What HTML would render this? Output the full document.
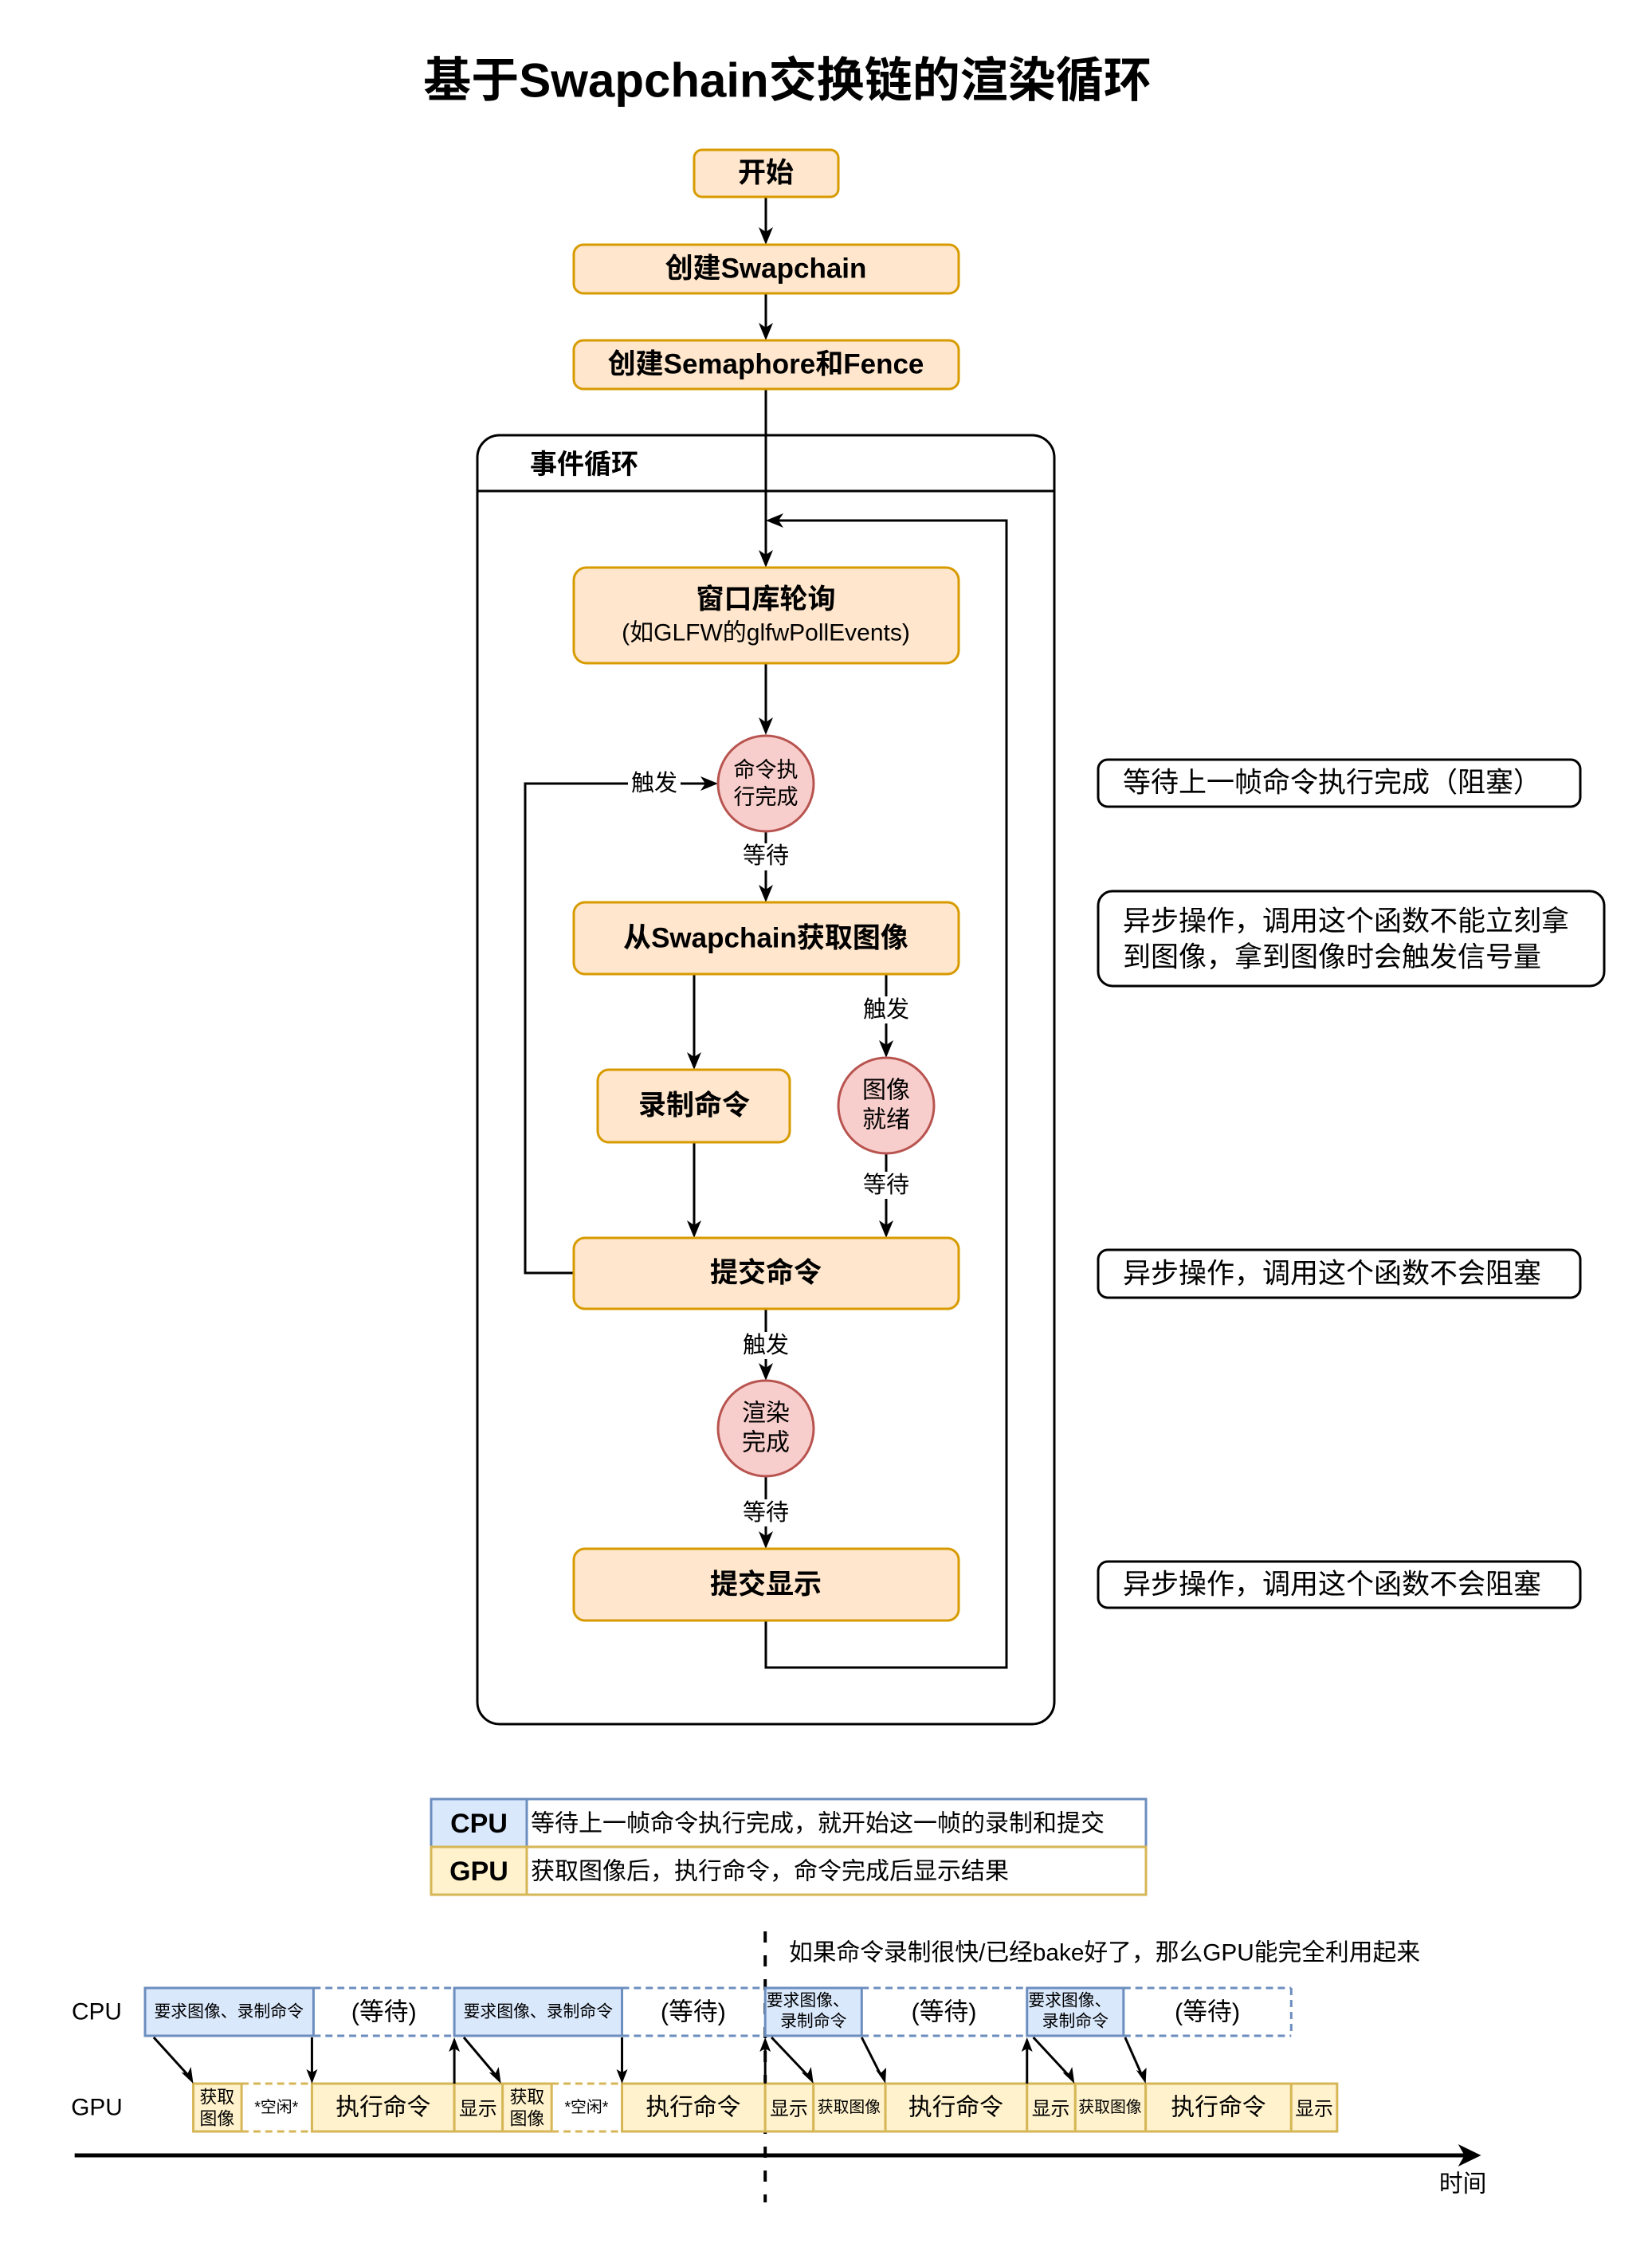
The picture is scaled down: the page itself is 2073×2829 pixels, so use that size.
<!DOCTYPE html>
<html><head><meta charset="utf-8"><style>
html,body{margin:0;padding:0;background:#fff;}
svg{display:block;}
text{font-family:"Liberation Sans","Noto Sans CJK SC",sans-serif;fill:#000;}
</style></head><body>
<svg width="2073" height="2829" viewBox="0 0 2073 2829" xmlns="http://www.w3.org/2000/svg">
<rect width="2073" height="2829" fill="#fff"/>
<!-- title -->
<text x="988" y="101" font-size="60" font-weight="bold" text-anchor="middle" dominant-baseline="central">基于Swapchain交换链的渲染循环</text>

<!-- container -->
<rect x="599" y="546" width="724" height="1617" rx="28" fill="none" stroke="#000" stroke-width="3"/>
<line x1="599" y1="616" x2="1323" y2="616" stroke="#000" stroke-width="3"/>
<text x="665" y="583" font-size="34" font-weight="bold" dominant-baseline="central">事件循环</text>

<g transform="translate(-2,0)">
<g stroke="#000" stroke-width="3" fill="none">
<line x1="963" y1="247" x2="963" y2="300"/>
<line x1="963" y1="368" x2="963" y2="420"/>
<line x1="963" y1="488" x2="963" y2="705"/>
<polyline points="963,2033 963,2092 1265,2092 1265,653 970,653"/>
<line x1="963" y1="832" x2="963" y2="915"/>
<line x1="963" y1="1043" x2="963" y2="1125"/>
<line x1="873" y1="1222" x2="873" y2="1335"/>
<line x1="1114" y1="1222" x2="1114" y2="1320"/>
<line x1="873" y1="1433" x2="873" y2="1546"/>
<line x1="1114" y1="1447" x2="1114" y2="1546"/>
<polyline points="722,1597 661,1597 661,983 896,983"/>
<line x1="963" y1="1642" x2="963" y2="1725"/>
<line x1="963" y1="1853" x2="963" y2="1936"/>
</g>
<g fill="#000">
<polygon points="963,307 954,285 963,291 972,285"/>
<polygon points="963,427 954,405 963,411 972,405"/>
<polygon points="963,712 954,690 963,696 972,690"/>
<polygon points="963,653 985,644 979,653 985,662"/>
<polygon points="963,922 954,900 963,906 972,900"/>
<polygon points="963,1132 954,1110 963,1116 972,1110"/>
<polygon points="873,1342 864,1320 873,1326 882,1320"/>
<polygon points="1114,1327 1105,1305 1114,1311 1123,1305"/>
<polygon points="873,1553 864,1531 873,1537 882,1531"/>
<polygon points="1114,1553 1105,1531 1114,1537 1123,1531"/>
<polygon points="903,983 881,974 887,983 881,992"/>
<polygon points="963,1732 954,1710 963,1716 972,1710"/>
<polygon points="963,1943 954,1921 963,1927 972,1921"/>
</g>

<!-- boxes -->
<g fill="#ffe6cc" stroke="#d79b00" stroke-width="3">
<rect x="873" y="188" width="181" height="59" rx="10"/>
<rect x="722" y="307" width="483" height="61" rx="12"/>
<rect x="722" y="427" width="483" height="61" rx="12"/>
<rect x="722" y="712" width="483" height="120" rx="16"/>
<rect x="722" y="1132" width="483" height="90" rx="14"/>
<rect x="752" y="1342" width="241" height="91" rx="14"/>
<rect x="722" y="1553" width="483" height="89" rx="14"/>
<rect x="722" y="1943" width="483" height="90" rx="14"/>
</g>
<g fill="#f8cecc" stroke="#b85450" stroke-width="3">
<ellipse cx="963" cy="983" rx="60" ry="60"/>
<ellipse cx="1114" cy="1387" rx="60" ry="60"/>
<ellipse cx="963" cy="1792" rx="60" ry="60"/>
</g>
<g font-size="35" font-weight="bold" text-anchor="middle" dominant-baseline="central">
<text x="963" y="217">开始</text>
<text x="963" y="337">创建Swapchain</text>
<text x="963" y="457">创建Semaphore和Fence</text>
<text x="963" y="752">窗口库轮询</text>
<text x="963" y="1177">从Swapchain获取图像</text>
<text x="873" y="1387">录制命令</text>
<text x="963" y="1597">提交命令</text>
<text x="963" y="1988">提交显示</text>
</g>
<text x="963" y="794" font-size="30" text-anchor="middle" dominant-baseline="central">(如GLFW的glfwPollEvents)</text>
<g font-size="27" text-anchor="middle" dominant-baseline="central">
<text x="963" y="966">命令执</text>
<text x="963" y="1000">行完成</text>
</g>
<g font-size="30" text-anchor="middle" dominant-baseline="central">
<text x="1114" y="1368">图像</text>
<text x="1114" y="1405">就绪</text>
<text x="963" y="1773">渲染</text>
<text x="963" y="1810">完成</text>
</g>
<g font-size="29" text-anchor="middle" dominant-baseline="central">
<rect x="790" y="966" width="66" height="34" fill="#fff"/>
<text x="823" y="983">触发</text>
<rect x="930" y="1058" width="66" height="34" fill="#fff"/>
<text x="963" y="1074">等待</text>
<rect x="1081" y="1250" width="66" height="34" fill="#fff"/>
<text x="1114" y="1267">触发</text>
<rect x="1081" y="1470" width="66" height="34" fill="#fff"/>
<text x="1114" y="1487">等待</text>
<rect x="930" y="1671" width="66" height="34" fill="#fff"/>
<text x="963" y="1688">触发</text>
<rect x="930" y="1881" width="66" height="34" fill="#fff"/>
<text x="963" y="1898">等待</text>
</g>
</g>

<!-- notes -->
<g fill="none" stroke="#000" stroke-width="3">
<rect x="1378" y="953" width="605" height="59" rx="12"/>
<rect x="1378" y="1118" width="635" height="119" rx="18"/>
<rect x="1378" y="1568" width="605" height="60" rx="12"/>
<rect x="1378" y="1959" width="605" height="58" rx="12"/>
</g>
<g font-size="35" dominant-baseline="central">
<text x="1409" y="982">等待上一帧命令执行完成（阻塞）</text>
<text x="1409" y="1156">异步操作，调用这个函数不能立刻拿</text>
<text x="1409" y="1201">到图像，拿到图像时会触发信号量</text>
<text x="1409" y="1598">异步操作，调用这个函数不会阻塞</text>
<text x="1409" y="1988">异步操作，调用这个函数不会阻塞</text>
</g>

<!-- legend -->
<rect x="541" y="2257" width="120" height="60" fill="#dae8fc" stroke="#6c8ebf" stroke-width="3"/>
<rect x="661" y="2257" width="777" height="60" fill="#fff" stroke="#6c8ebf" stroke-width="3"/>
<rect x="541" y="2317" width="120" height="60" fill="#fff2cc" stroke="#d6b656" stroke-width="3"/>
<rect x="661" y="2317" width="777" height="60" fill="#fff" stroke="#d6b656" stroke-width="3"/>
<g font-size="34" font-weight="bold" text-anchor="middle" dominant-baseline="central">
<text x="601" y="2288">CPU</text>
<text x="601" y="2348">GPU</text>
</g>
<g font-size="30" dominant-baseline="central">
<text x="666" y="2288">等待上一帧命令执行完成，就开始这一帧的录制和提交</text>
<text x="666" y="2348">获取图像后，执行命令，命令完成后显示结果</text>
</g>

<!-- timeline -->
<g transform="translate(182,0) scale(0.9926,1) translate(-182,0)">
<line x1="966" y1="2423" x2="966" y2="2763" stroke="#000" stroke-width="4" stroke-dasharray="14 16"/>
<text x="996" y="2450" font-size="30" dominant-baseline="central">如果命令录制很快/已经bake好了，那么GPU能完全利用起来</text>
<text x="121" y="2524" font-size="30" text-anchor="middle" dominant-baseline="central">CPU</text>
<text x="121" y="2644" font-size="30" text-anchor="middle" dominant-baseline="central">GPU</text>

<g stroke="#6c8ebf" stroke-width="3" stroke-dasharray="9 6" fill="none">
<line x1="395" y1="2494" x2="573" y2="2494"/><line x1="395" y1="2554" x2="573" y2="2554"/>
<line x1="785" y1="2494" x2="966" y2="2494"/><line x1="785" y1="2554" x2="966" y2="2554"/>
<line x1="1088" y1="2494" x2="1297" y2="2494"/><line x1="1088" y1="2554" x2="1297" y2="2554"/>
<line x1="1419" y1="2494" x2="1631" y2="2494"/><line x1="1419" y1="2554" x2="1631" y2="2554"/>
<line x1="1631" y1="2494" x2="1631" y2="2554"/>
</g>
<g fill="#dae8fc" stroke="#6c8ebf" stroke-width="3">
<rect x="182" y="2494" width="213" height="60"/>
<rect x="573" y="2494" width="212" height="60"/>
<rect x="966" y="2494" width="122" height="60"/>
<rect x="1297" y="2494" width="122" height="60"/>
</g>
<g font-size="21" text-anchor="middle" dominant-baseline="central">
<text x="288" y="2524">要求图像、录制命令</text>
<text x="679" y="2524">要求图像、录制命令</text>
<text x="1020" y="2510">要求图像、</text>
<text x="1027" y="2536">录制命令</text>
<text x="1351" y="2510">要求图像、</text>
<text x="1358" y="2536">录制命令</text>
</g>
<g font-size="31" text-anchor="middle" dominant-baseline="central">
<text x="484" y="2524">(等待)</text>
<text x="875" y="2524">(等待)</text>
<text x="1192" y="2524">(等待)</text>
<text x="1525" y="2524">(等待)</text>
</g>

<g stroke="#d6b656" stroke-width="3" stroke-dasharray="9 6" fill="none">
<line x1="304" y1="2614" x2="393" y2="2614"/><line x1="304" y1="2674" x2="393" y2="2674"/>
<line x1="696" y1="2614" x2="785" y2="2614"/><line x1="696" y1="2674" x2="785" y2="2674"/>
</g>
<g fill="#fff2cc" stroke="#d6b656" stroke-width="3">
<rect x="243" y="2614" width="61" height="60"/>
<rect x="393" y="2614" width="180" height="60"/>
<rect x="573" y="2614" width="61" height="60"/>
<rect x="634" y="2614" width="62" height="60"/>
<rect x="785" y="2614" width="181" height="60"/>
<rect x="966" y="2614" width="61" height="60"/>
<rect x="1027" y="2614" width="91" height="60"/>
<rect x="1118" y="2614" width="179" height="60"/>
<rect x="1297" y="2614" width="61" height="60"/>
<rect x="1358" y="2614" width="89" height="60"/>
<rect x="1447" y="2614" width="184" height="60"/>
<rect x="1631" y="2614" width="58" height="60"/>
</g>
<g font-size="22" text-anchor="middle" dominant-baseline="central">
<text x="273" y="2631">获取</text><text x="273" y="2658">图像</text>
<text x="665" y="2631">获取</text><text x="665" y="2658">图像</text>
<text x="348" y="2644" font-size="20">*空闲*</text>
<text x="740" y="2644" font-size="20">*空闲*</text>
<text x="603" y="2646" font-size="24">显示</text>
<text x="996" y="2646" font-size="24">显示</text>
<text x="1327" y="2646" font-size="24">显示</text>
<text x="1660" y="2646" font-size="24">显示</text>
<text x="1072" y="2644" font-size="20">获取图像</text>
<text x="1402" y="2644" font-size="20">获取图像</text>
</g>
<g font-size="30" text-anchor="middle" dominant-baseline="central">
<text x="483" y="2644">执行命令</text>
<text x="875" y="2644">执行命令</text>
<text x="1207" y="2644">执行命令</text>
<text x="1539" y="2644">执行命令</text>
</g>

<g stroke="#000" stroke-width="3" fill="none">
<line x1="193" y1="2556" x2="236" y2="2603"/>
<line x1="393" y1="2556" x2="393" y2="2604"/>
<line x1="573" y1="2614" x2="573" y2="2566"/>
<line x1="585" y1="2556" x2="625" y2="2603"/>
<line x1="785" y1="2556" x2="785" y2="2604"/>
<line x1="966" y1="2614" x2="966" y2="2566"/>
<line x1="974" y1="2556" x2="1019" y2="2603"/>
<line x1="1088" y1="2556" x2="1112" y2="2603"/>
<line x1="1297" y1="2614" x2="1297" y2="2566"/>
<line x1="1305" y1="2556" x2="1349" y2="2603"/>
<line x1="1421" y1="2556" x2="1442" y2="2603"/>
</g>
<g fill="#000">
<polygon points="243,2614 228,2600 236,2601 240,2593"/>
<polygon points="393,2614 386,2596 393,2600 400,2596"/>
<polygon points="573,2556 566,2574 573,2570 580,2574"/>
<polygon points="632,2614 617,2600 625,2601 629,2593"/>
<polygon points="785,2614 778,2596 785,2600 792,2596"/>
<polygon points="966,2556 959,2574 966,2570 973,2574"/>
<polygon points="1027,2614 1012,2600 1020,2601 1024,2593"/>
<polygon points="1118,2614 1106,2597 1113,2600 1119,2594"/>
<polygon points="1297,2556 1290,2574 1297,2570 1304,2574"/>
<polygon points="1357,2614 1342,2600 1350,2601 1354,2593"/>
<polygon points="1447,2614 1435,2597 1442,2600 1448,2594"/>
</g>
<line x1="93" y1="2704" x2="1850" y2="2704" stroke="#000" stroke-width="5"/>
<polygon points="1871,2704 1842,2690 1850,2704 1842,2718" fill="#000"/>
<text x="1848" y="2740" font-size="30" text-anchor="middle" dominant-baseline="central">时间</text>
</g>
</svg>
</body></html>
